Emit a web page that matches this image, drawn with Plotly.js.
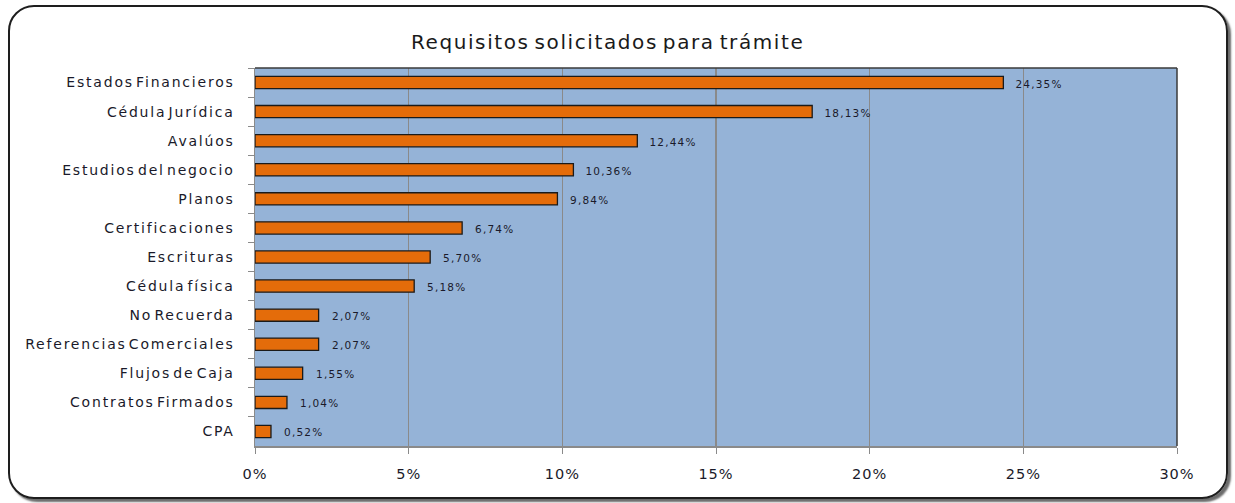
<!DOCTYPE html>
<html><head><meta charset="utf-8">
<script src="https://cdn.plot.ly/plotly-3.0.1.min.js"></script>
<style>
html,body{margin:0;padding:0;background:#fff;}
#wrap{position:relative;width:1235px;height:503px;}
#chart{position:absolute;left:0;top:0;width:1235px;height:503px;}
#frame{position:absolute;left:8px;top:5px;width:1216px;height:490px;border:2px solid #1e1e1e;border-radius:26px;box-shadow:3px 3px 2px #6b6b6b;pointer-events:none;}
#chart .ytick text{letter-spacing:1.8px;word-spacing:-4px;}
#chart .xtick text{letter-spacing:1px;}
#chart .gtitle{letter-spacing:1.6px;word-spacing:-3px;}
#chart .annotation-text{letter-spacing:1.2px;}
</style></head>
<body><div id="wrap"><div id="chart"></div><div id="frame"></div></div>
<script>
const categories = ["Estados Financieros","Cédula Jurídica","Avalúos","Estudios del negocio","Planos","Certificaciones","Escrituras","Cédula física","No Recuerda","Referencias Comerciales","Flujos de Caja","Contratos Firmados","CPA"];
const values = [24.35, 18.13, 12.44, 10.36, 9.84, 6.74, 5.70, 5.18, 2.07, 2.07, 1.55, 1.04, 0.52];
const xTickVals = [0,5,10,15,20,25,30];
const xTickText = ["0%","5%","10%","15%","20%","25%","30%"];
const fmt = v => v.toFixed(2).replace('.', ',') + '%';

const trace = {
  type:'bar', orientation:'h', x: values, y: categories,
  width:0.42,
  marker:{color:'#E46C0A', line:{color:'#1a1a1a', width:1.3}},
  hoverinfo:'none'
};
const annotations = values.map((v,i)=>({
  x:v, y:categories[i], xref:'x', yref:'y', text:fmt(v), showarrow:false,
  xanchor:'left', yanchor:'middle', xshift:14, yshift:-1,
  font:{family:'DejaVu Sans', size:10.5, color:'#1a1a2a'}
}));
const layout = {
  width:1235, height:503,
  margin:{l:255, r:58, t:68, b:57},
  paper_bgcolor:'rgba(0,0,0,0)', plot_bgcolor:'#95B3D7',
  showlegend:false, bargap:0.58,
  title:{text:'Requisitos solicitados para trámite', xref:'container', yref:'container',
    x:0.492, y:1-42/503, xanchor:'center', yanchor:'middle',
    font:{family:'DejaVu Sans', size:20, color:'#1a1a1a'}},
  xaxis:{range:[0,30], tickvals:xTickVals, ticktext:xTickText, showgrid:true, gridcolor:'#8a8a8a', gridwidth:1.5,
    zeroline:false, showline:true, linecolor:'#8a8a8a', linewidth:1.5, ticks:'outside', ticklen:6, tickcolor:'#8a8a8a',
    ticklabelstandoff:8,
    tickfont:{family:'DejaVu Sans', size:14.5, color:'#1a1a2a'}, fixedrange:true},
  yaxis:{autorange:'reversed', type:'category', tickson:'boundaries', ticks:'outside', ticklen:6, tickcolor:'#8a8a8a',
    showline:true, linecolor:'#8a8a8a', linewidth:1.5, showgrid:false, ticklabelstandoff:16,
    tickfont:{family:'DejaVu Sans', size:14, color:'#1a1a2a'}, fixedrange:true},
  shapes:[
    {type:'line', xref:'paper', yref:'paper', x0:0, x1:1, y0:1, y1:1, line:{color:'#3a3a3a', width:1.5}},
    {type:'line', xref:'paper', yref:'paper', x0:1, x1:1, y0:0, y1:1, line:{color:'#3a3a3a', width:1.5}}
  ],
  annotations: annotations
};
Plotly.newPlot('chart', [trace], layout, {displayModeBar:false, staticPlot:true});
</script></body></html>
